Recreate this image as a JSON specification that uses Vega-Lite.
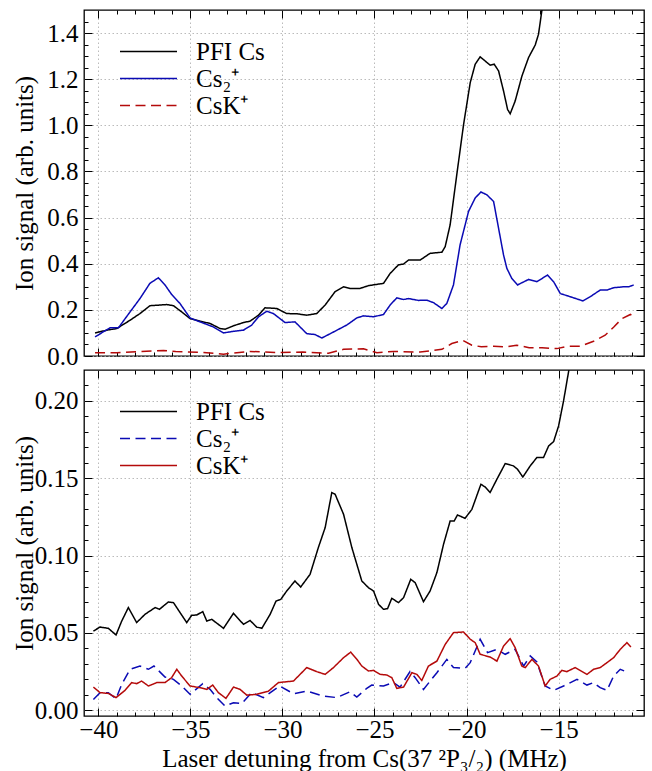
{
  "$schema": "https://vega.github.io/schema/vega-lite/v6.json",
  "padding": {"left": 11, "top": 8, "right": 4, "bottom": 2},
  "background": "white",
  "config": {
    "font": "Liberation Serif",
    "view": {"stroke": "black", "strokeWidth": 1.3},
    "axis": {"labelFont": "Liberation Serif", "titleFont": "Liberation Serif", "labelColor": "black", "titleColor": "black", "labelFontSize": 25, "titleFontSize": 25, "titleFontWeight": "normal", "domain": false, "tickColor": "black", "tickWidth": 1, "labelOverlap": false, "labelFlush": false, "labelBound": false},
    "legend": {"labelFont": "Liberation Serif", "labelFontSize": 25, "labelColor": "black"}
  },
  "spacing": -5,
  "datasets": {
    "top": [
      {"x": -40.18, "y": 0.100, "s": "PFI Cs"},
      {"x": -39.54, "y": 0.112, "s": "PFI Cs"},
      {"x": -39.0, "y": 0.119, "s": "PFI Cs"},
      {"x": -38.28, "y": 0.155, "s": "PFI Cs"},
      {"x": -37.74, "y": 0.184, "s": "PFI Cs"},
      {"x": -37.2, "y": 0.218, "s": "PFI Cs"},
      {"x": -36.83, "y": 0.220, "s": "PFI Cs"},
      {"x": -36.29, "y": 0.223, "s": "PFI Cs"},
      {"x": -35.92, "y": 0.218, "s": "PFI Cs"},
      {"x": -35.47, "y": 0.191, "s": "PFI Cs"},
      {"x": -35.02, "y": 0.162, "s": "PFI Cs"},
      {"x": -34.48, "y": 0.151, "s": "PFI Cs"},
      {"x": -33.93, "y": 0.141, "s": "PFI Cs"},
      {"x": -33.39, "y": 0.119, "s": "PFI Cs"},
      {"x": -33.12, "y": 0.116, "s": "PFI Cs"},
      {"x": -32.66, "y": 0.131, "s": "PFI Cs"},
      {"x": -32.12, "y": 0.145, "s": "PFI Cs"},
      {"x": -31.76, "y": 0.151, "s": "PFI Cs"},
      {"x": -31.30, "y": 0.177, "s": "PFI Cs"},
      {"x": -30.95, "y": 0.209, "s": "PFI Cs"},
      {"x": -30.31, "y": 0.206, "s": "PFI Cs"},
      {"x": -29.77, "y": 0.184, "s": "PFI Cs"},
      {"x": -29.22, "y": 0.183, "s": "PFI Cs"},
      {"x": -28.68, "y": 0.177, "s": "PFI Cs"},
      {"x": -28.14, "y": 0.184, "s": "PFI Cs"},
      {"x": -27.68, "y": 0.221, "s": "PFI Cs"},
      {"x": -27.14, "y": 0.279, "s": "PFI Cs"},
      {"x": -26.68, "y": 0.300, "s": "PFI Cs"},
      {"x": -26.33, "y": 0.293, "s": "PFI Cs"},
      {"x": -25.78, "y": 0.293, "s": "PFI Cs"},
      {"x": -25.33, "y": 0.305, "s": "PFI Cs"},
      {"x": -24.51, "y": 0.315, "s": "PFI Cs"},
      {"x": -24.15, "y": 0.358, "s": "PFI Cs"},
      {"x": -23.70, "y": 0.395, "s": "PFI Cs"},
      {"x": -23.42, "y": 0.399, "s": "PFI Cs"},
      {"x": -23.15, "y": 0.416, "s": "PFI Cs"},
      {"x": -22.52, "y": 0.416, "s": "PFI Cs"},
      {"x": -21.98, "y": 0.445, "s": "PFI Cs"},
      {"x": -21.34, "y": 0.450, "s": "PFI Cs"},
      {"x": -21.16, "y": 0.474, "s": "PFI Cs"},
      {"x": -20.89, "y": 0.569, "s": "PFI Cs"},
      {"x": -20.53, "y": 0.786, "s": "PFI Cs"},
      {"x": -20.16, "y": 1.004, "s": "PFI Cs"},
      {"x": -19.80, "y": 1.185, "s": "PFI Cs"},
      {"x": -19.53, "y": 1.265, "s": "PFI Cs"},
      {"x": -19.26, "y": 1.297, "s": "PFI Cs"},
      {"x": -18.99, "y": 1.279, "s": "PFI Cs"},
      {"x": -18.72, "y": 1.261, "s": "PFI Cs"},
      {"x": -18.50, "y": 1.265, "s": "PFI Cs"},
      {"x": -18.26, "y": 1.236, "s": "PFI Cs"},
      {"x": -17.99, "y": 1.149, "s": "PFI Cs"},
      {"x": -17.77, "y": 1.069, "s": "PFI Cs"},
      {"x": -17.63, "y": 1.050, "s": "PFI Cs"},
      {"x": -17.36, "y": 1.105, "s": "PFI Cs"},
      {"x": -16.99, "y": 1.214, "s": "PFI Cs"},
      {"x": -16.63, "y": 1.294, "s": "PFI Cs"},
      {"x": -16.27, "y": 1.348, "s": "PFI Cs"},
      {"x": -16.09, "y": 1.395, "s": "PFI Cs"},
      {"x": -15.91, "y": 1.497, "s": "PFI Cs"},
      {"x": -15.75, "y": 1.62, "s": "PFI Cs"},

      {"x": -40.18, "y": 0.083, "s": "Cs₂⁺"},
      {"x": -39.37, "y": 0.122, "s": "Cs₂⁺"},
      {"x": -38.91, "y": 0.122, "s": "Cs₂⁺"},
      {"x": -38.28, "y": 0.191, "s": "Cs₂⁺"},
      {"x": -37.74, "y": 0.249, "s": "Cs₂⁺"},
      {"x": -37.2, "y": 0.315, "s": "Cs₂⁺"},
      {"x": -36.74, "y": 0.339, "s": "Cs₂⁺"},
      {"x": -36.38, "y": 0.308, "s": "Cs₂⁺"},
      {"x": -36.02, "y": 0.267, "s": "Cs₂⁺"},
      {"x": -35.57, "y": 0.228, "s": "Cs₂⁺"},
      {"x": -35.02, "y": 0.165, "s": "Cs₂⁺"},
      {"x": -34.48, "y": 0.148, "s": "Cs₂⁺"},
      {"x": -33.75, "y": 0.126, "s": "Cs₂⁺"},
      {"x": -33.21, "y": 0.100, "s": "Cs₂⁺"},
      {"x": -32.66, "y": 0.107, "s": "Cs₂⁺"},
      {"x": -32.12, "y": 0.112, "s": "Cs₂⁺"},
      {"x": -31.67, "y": 0.134, "s": "Cs₂⁺"},
      {"x": -31.30, "y": 0.170, "s": "Cs₂⁺"},
      {"x": -30.85, "y": 0.194, "s": "Cs₂⁺"},
      {"x": -30.49, "y": 0.184, "s": "Cs₂⁺"},
      {"x": -29.86, "y": 0.145, "s": "Cs₂⁺"},
      {"x": -29.32, "y": 0.148, "s": "Cs₂⁺"},
      {"x": -28.68, "y": 0.097, "s": "Cs₂⁺"},
      {"x": -28.23, "y": 0.093, "s": "Cs₂⁺"},
      {"x": -27.86, "y": 0.078, "s": "Cs₂⁺"},
      {"x": -27.23, "y": 0.104, "s": "Cs₂⁺"},
      {"x": -26.51, "y": 0.134, "s": "Cs₂⁺"},
      {"x": -25.96, "y": 0.165, "s": "Cs₂⁺"},
      {"x": -25.60, "y": 0.174, "s": "Cs₂⁺"},
      {"x": -25.05, "y": 0.170, "s": "Cs₂⁺"},
      {"x": -24.51, "y": 0.180, "s": "Cs₂⁺"},
      {"x": -24.15, "y": 0.221, "s": "Cs₂⁺"},
      {"x": -23.79, "y": 0.252, "s": "Cs₂⁺"},
      {"x": -23.42, "y": 0.245, "s": "Cs₂⁺"},
      {"x": -23.15, "y": 0.249, "s": "Cs₂⁺"},
      {"x": -22.61, "y": 0.241, "s": "Cs₂⁺"},
      {"x": -22.16, "y": 0.242, "s": "Cs₂⁺"},
      {"x": -21.79, "y": 0.231, "s": "Cs₂⁺"},
      {"x": -21.34, "y": 0.206, "s": "Cs₂⁺"},
      {"x": -21.07, "y": 0.228, "s": "Cs₂⁺"},
      {"x": -20.71, "y": 0.308, "s": "Cs₂⁺"},
      {"x": -20.35, "y": 0.482, "s": "Cs₂⁺"},
      {"x": -19.89, "y": 0.627, "s": "Cs₂⁺"},
      {"x": -19.53, "y": 0.685, "s": "Cs₂⁺"},
      {"x": -19.22, "y": 0.711, "s": "Cs₂⁺"},
      {"x": -18.90, "y": 0.699, "s": "Cs₂⁺"},
      {"x": -18.53, "y": 0.670, "s": "Cs₂⁺"},
      {"x": -18.26, "y": 0.554, "s": "Cs₂⁺"},
      {"x": -17.99, "y": 0.438, "s": "Cs₂⁺"},
      {"x": -17.81, "y": 0.380, "s": "Cs₂⁺"},
      {"x": -17.54, "y": 0.336, "s": "Cs₂⁺"},
      {"x": -17.23, "y": 0.308, "s": "Cs₂⁺"},
      {"x": -16.63, "y": 0.332, "s": "Cs₂⁺"},
      {"x": -16.18, "y": 0.322, "s": "Cs₂⁺"},
      {"x": -15.60, "y": 0.351, "s": "Cs₂⁺"},
      {"x": -15.27, "y": 0.322, "s": "Cs₂⁺"},
      {"x": -14.91, "y": 0.271, "s": "Cs₂⁺"},
      {"x": -14.37, "y": 0.257, "s": "Cs₂⁺"},
      {"x": -13.68, "y": 0.239, "s": "Cs₂⁺"},
      {"x": -13.28, "y": 0.257, "s": "Cs₂⁺"},
      {"x": -12.74, "y": 0.286, "s": "Cs₂⁺"},
      {"x": -12.37, "y": 0.286, "s": "Cs₂⁺"},
      {"x": -12.01, "y": 0.296, "s": "Cs₂⁺"},
      {"x": -11.47, "y": 0.300, "s": "Cs₂⁺"},
      {"x": -11.20, "y": 0.300, "s": "Cs₂⁺"},
      {"x": -10.92, "y": 0.308, "s": "Cs₂⁺"},

      {"x": -40.18, "y": 0.014, "s": "CsK⁺"},
      {"x": -39.0, "y": 0.014, "s": "CsK⁺"},
      {"x": -37.7, "y": 0.019, "s": "CsK⁺"},
      {"x": -36.47, "y": 0.024, "s": "CsK⁺"},
      {"x": -35.8, "y": 0.019, "s": "CsK⁺"},
      {"x": -34.5, "y": 0.016, "s": "CsK⁺"},
      {"x": -33.2, "y": 0.008, "s": "CsK⁺"},
      {"x": -31.76, "y": 0.020, "s": "CsK⁺"},
      {"x": -30.3, "y": 0.015, "s": "CsK⁺"},
      {"x": -28.9, "y": 0.017, "s": "CsK⁺"},
      {"x": -27.5, "y": 0.012, "s": "CsK⁺"},
      {"x": -26.68, "y": 0.029, "s": "CsK⁺"},
      {"x": -25.6, "y": 0.031, "s": "CsK⁺"},
      {"x": -24.87, "y": 0.014, "s": "CsK⁺"},
      {"x": -23.97, "y": 0.020, "s": "CsK⁺"},
      {"x": -22.52, "y": 0.017, "s": "CsK⁺"},
      {"x": -21.34, "y": 0.029, "s": "CsK⁺"},
      {"x": -20.8, "y": 0.054, "s": "CsK⁺"},
      {"x": -20.2, "y": 0.068, "s": "CsK⁺"},
      {"x": -19.71, "y": 0.047, "s": "CsK⁺"},
      {"x": -19.2, "y": 0.040, "s": "CsK⁺"},
      {"x": -18.53, "y": 0.042, "s": "CsK⁺"},
      {"x": -17.8, "y": 0.040, "s": "CsK⁺"},
      {"x": -17.28, "y": 0.047, "s": "CsK⁺"},
      {"x": -16.6, "y": 0.036, "s": "CsK⁺"},
      {"x": -15.9, "y": 0.036, "s": "CsK⁺"},
      {"x": -15.09, "y": 0.032, "s": "CsK⁺"},
      {"x": -14.55, "y": 0.042, "s": "CsK⁺"},
      {"x": -13.82, "y": 0.042, "s": "CsK⁺"},
      {"x": -13.1, "y": 0.064, "s": "CsK⁺"},
      {"x": -12.47, "y": 0.090, "s": "CsK⁺"},
      {"x": -12.0, "y": 0.126, "s": "CsK⁺"},
      {"x": -11.56, "y": 0.162, "s": "CsK⁺"},
      {"x": -11.1, "y": 0.180, "s": "CsK⁺"},
      {"x": -10.92, "y": 0.171, "s": "CsK⁺"}
    ],
    "bottom": [
      {"x": -40.27, "y": 0.0512, "s": "PFI Cs"},
      {"x": -39.91, "y": 0.0538, "s": "PFI Cs"},
      {"x": -39.46, "y": 0.0530, "s": "PFI Cs"},
      {"x": -39.04, "y": 0.0487, "s": "PFI Cs"},
      {"x": -38.73, "y": 0.0577, "s": "PFI Cs"},
      {"x": -38.37, "y": 0.0664, "s": "PFI Cs"},
      {"x": -37.92, "y": 0.0567, "s": "PFI Cs"},
      {"x": -37.47, "y": 0.0620, "s": "PFI Cs"},
      {"x": -36.92, "y": 0.0664, "s": "PFI Cs"},
      {"x": -36.68, "y": 0.0653, "s": "PFI Cs"},
      {"x": -36.20, "y": 0.0700, "s": "PFI Cs"},
      {"x": -35.92, "y": 0.0696, "s": "PFI Cs"},
      {"x": -35.56, "y": 0.0631, "s": "PFI Cs"},
      {"x": -35.20, "y": 0.0567, "s": "PFI Cs"},
      {"x": -34.93, "y": 0.0614, "s": "PFI Cs"},
      {"x": -34.66, "y": 0.0616, "s": "PFI Cs"},
      {"x": -34.33, "y": 0.0638, "s": "PFI Cs"},
      {"x": -34.11, "y": 0.0577, "s": "PFI Cs"},
      {"x": -33.84, "y": 0.0588, "s": "PFI Cs"},
      {"x": -33.20, "y": 0.0530, "s": "PFI Cs"},
      {"x": -32.66, "y": 0.0627, "s": "PFI Cs"},
      {"x": -32.12, "y": 0.0556, "s": "PFI Cs"},
      {"x": -31.76, "y": 0.0581, "s": "PFI Cs"},
      {"x": -31.40, "y": 0.0538, "s": "PFI Cs"},
      {"x": -31.12, "y": 0.0530, "s": "PFI Cs"},
      {"x": -30.67, "y": 0.0620, "s": "PFI Cs"},
      {"x": -30.35, "y": 0.0706, "s": "PFI Cs"},
      {"x": -30.09, "y": 0.0717, "s": "PFI Cs"},
      {"x": -29.77, "y": 0.0771, "s": "PFI Cs"},
      {"x": -29.32, "y": 0.0836, "s": "PFI Cs"},
      {"x": -29.01, "y": 0.0797, "s": "PFI Cs"},
      {"x": -28.50, "y": 0.0879, "s": "PFI Cs"},
      {"x": -28.05, "y": 0.1052, "s": "PFI Cs"},
      {"x": -27.68, "y": 0.1181, "s": "PFI Cs"},
      {"x": -27.32, "y": 0.1407, "s": "PFI Cs"},
      {"x": -27.14, "y": 0.1397, "s": "PFI Cs"},
      {"x": -26.68, "y": 0.1267, "s": "PFI Cs"},
      {"x": -26.23, "y": 0.1052, "s": "PFI Cs"},
      {"x": -25.96, "y": 0.0944, "s": "PFI Cs"},
      {"x": -25.69, "y": 0.0836, "s": "PFI Cs"},
      {"x": -25.33, "y": 0.0793, "s": "PFI Cs"},
      {"x": -25.05, "y": 0.0771, "s": "PFI Cs"},
      {"x": -24.78, "y": 0.0685, "s": "PFI Cs"},
      {"x": -24.51, "y": 0.0653, "s": "PFI Cs"},
      {"x": -24.29, "y": 0.0657, "s": "PFI Cs"},
      {"x": -24.06, "y": 0.0724, "s": "PFI Cs"},
      {"x": -23.70, "y": 0.0696, "s": "PFI Cs"},
      {"x": -23.42, "y": 0.0728, "s": "PFI Cs"},
      {"x": -23.03, "y": 0.0847, "s": "PFI Cs"},
      {"x": -22.79, "y": 0.0825, "s": "PFI Cs"},
      {"x": -22.34, "y": 0.0702, "s": "PFI Cs"},
      {"x": -21.98, "y": 0.0771, "s": "PFI Cs"},
      {"x": -21.61, "y": 0.0890, "s": "PFI Cs"},
      {"x": -21.25, "y": 0.1073, "s": "PFI Cs"},
      {"x": -20.89, "y": 0.1224, "s": "PFI Cs"},
      {"x": -20.67, "y": 0.1224, "s": "PFI Cs"},
      {"x": -20.49, "y": 0.1263, "s": "PFI Cs"},
      {"x": -20.08, "y": 0.1241, "s": "PFI Cs"},
      {"x": -19.71, "y": 0.1299, "s": "PFI Cs"},
      {"x": -19.22, "y": 0.1461, "s": "PFI Cs"},
      {"x": -18.99, "y": 0.1444, "s": "PFI Cs"},
      {"x": -18.72, "y": 0.1408, "s": "PFI Cs"},
      {"x": -18.35, "y": 0.1494, "s": "PFI Cs"},
      {"x": -17.90, "y": 0.1595, "s": "PFI Cs"},
      {"x": -17.45, "y": 0.1580, "s": "PFI Cs"},
      {"x": -17.23, "y": 0.1558, "s": "PFI Cs"},
      {"x": -16.94, "y": 0.1508, "s": "PFI Cs"},
      {"x": -16.54, "y": 0.1580, "s": "PFI Cs"},
      {"x": -16.18, "y": 0.1634, "s": "PFI Cs"},
      {"x": -15.82, "y": 0.1634, "s": "PFI Cs"},
      {"x": -15.54, "y": 0.1709, "s": "PFI Cs"},
      {"x": -15.27, "y": 0.1737, "s": "PFI Cs"},
      {"x": -15.00, "y": 0.1838, "s": "PFI Cs"},
      {"x": -14.73, "y": 0.2000, "s": "PFI Cs"},
      {"x": -14.45, "y": 0.2194, "s": "PFI Cs"},
      {"x": -14.30, "y": 0.2400, "s": "PFI Cs"},

      {"x": -40.27, "y": 0.0070, "s": "Cs₂⁺"},
      {"x": -39.91, "y": 0.0114, "s": "Cs₂⁺"},
      {"x": -39.46, "y": 0.0114, "s": "Cs₂⁺"},
      {"x": -39.04, "y": 0.0075, "s": "Cs₂⁺"},
      {"x": -38.73, "y": 0.0168, "s": "Cs₂⁺"},
      {"x": -38.28, "y": 0.0265, "s": "Cs₂⁺"},
      {"x": -37.74, "y": 0.0286, "s": "Cs₂⁺"},
      {"x": -37.28, "y": 0.0265, "s": "Cs₂⁺"},
      {"x": -36.98, "y": 0.0286, "s": "Cs₂⁺"},
      {"x": -36.38, "y": 0.0215, "s": "Cs₂⁺"},
      {"x": -35.92, "y": 0.0200, "s": "Cs₂⁺"},
      {"x": -35.47, "y": 0.0157, "s": "Cs₂⁺"},
      {"x": -35.02, "y": 0.0103, "s": "Cs₂⁺"},
      {"x": -34.33, "y": 0.0172, "s": "Cs₂⁺"},
      {"x": -33.93, "y": 0.0135, "s": "Cs₂⁺"},
      {"x": -33.57, "y": 0.0082, "s": "Cs₂⁺"},
      {"x": -33.12, "y": 0.0027, "s": "Cs₂⁺"},
      {"x": -32.66, "y": 0.0049, "s": "Cs₂⁺"},
      {"x": -32.21, "y": 0.0043, "s": "Cs₂⁺"},
      {"x": -31.67, "y": 0.0114, "s": "Cs₂⁺"},
      {"x": -31.03, "y": 0.0082, "s": "Cs₂⁺"},
      {"x": -30.16, "y": 0.0157, "s": "Cs₂⁺"},
      {"x": -29.40, "y": 0.0107, "s": "Cs₂⁺"},
      {"x": -28.68, "y": 0.0124, "s": "Cs₂⁺"},
      {"x": -27.77, "y": 0.0092, "s": "Cs₂⁺"},
      {"x": -27.05, "y": 0.0082, "s": "Cs₂⁺"},
      {"x": -26.33, "y": 0.0120, "s": "Cs₂⁺"},
      {"x": -25.96, "y": 0.0085, "s": "Cs₂⁺"},
      {"x": -25.42, "y": 0.0142, "s": "Cs₂⁺"},
      {"x": -25.15, "y": 0.0163, "s": "Cs₂⁺"},
      {"x": -24.51, "y": 0.0157, "s": "Cs₂⁺"},
      {"x": -23.97, "y": 0.0179, "s": "Cs₂⁺"},
      {"x": -23.61, "y": 0.0150, "s": "Cs₂⁺"},
      {"x": -23.07, "y": 0.0250, "s": "Cs₂⁺"},
      {"x": -22.79, "y": 0.0211, "s": "Cs₂⁺"},
      {"x": -22.34, "y": 0.0135, "s": "Cs₂⁺"},
      {"x": -21.61, "y": 0.0243, "s": "Cs₂⁺"},
      {"x": -21.07, "y": 0.0329, "s": "Cs₂⁺"},
      {"x": -20.71, "y": 0.0276, "s": "Cs₂⁺"},
      {"x": -20.08, "y": 0.0271, "s": "Cs₂⁺"},
      {"x": -19.80, "y": 0.0308, "s": "Cs₂⁺"},
      {"x": -19.26, "y": 0.0459, "s": "Cs₂⁺"},
      {"x": -18.86, "y": 0.0373, "s": "Cs₂⁺"},
      {"x": -18.35, "y": 0.0394, "s": "Cs₂⁺"},
      {"x": -17.90, "y": 0.0362, "s": "Cs₂⁺"},
      {"x": -17.36, "y": 0.0394, "s": "Cs₂⁺"},
      {"x": -16.90, "y": 0.0286, "s": "Cs₂⁺"},
      {"x": -16.54, "y": 0.0351, "s": "Cs₂⁺"},
      {"x": -16.18, "y": 0.0312, "s": "Cs₂⁺"},
      {"x": -15.73, "y": 0.0157, "s": "Cs₂⁺"},
      {"x": -15.27, "y": 0.0129, "s": "Cs₂⁺"},
      {"x": -14.73, "y": 0.0157, "s": "Cs₂⁺"},
      {"x": -14.00, "y": 0.0200, "s": "Cs₂⁺"},
      {"x": -13.46, "y": 0.0163, "s": "Cs₂⁺"},
      {"x": -13.10, "y": 0.0179, "s": "Cs₂⁺"},
      {"x": -12.74, "y": 0.0146, "s": "Cs₂⁺"},
      {"x": -12.37, "y": 0.0129, "s": "Cs₂⁺"},
      {"x": -12.01, "y": 0.0221, "s": "Cs₂⁺"},
      {"x": -11.65, "y": 0.0265, "s": "Cs₂⁺"},
      {"x": -11.20, "y": 0.0243, "s": "Cs₂⁺"},

      {"x": -40.27, "y": 0.0150, "s": "CsK⁺"},
      {"x": -39.91, "y": 0.0114, "s": "CsK⁺"},
      {"x": -39.46, "y": 0.0109, "s": "CsK⁺"},
      {"x": -39.04, "y": 0.0082, "s": "CsK⁺"},
      {"x": -38.55, "y": 0.0129, "s": "CsK⁺"},
      {"x": -38.19, "y": 0.0179, "s": "CsK⁺"},
      {"x": -37.92, "y": 0.0172, "s": "CsK⁺"},
      {"x": -37.65, "y": 0.0189, "s": "CsK⁺"},
      {"x": -37.28, "y": 0.0157, "s": "CsK⁺"},
      {"x": -36.83, "y": 0.0179, "s": "CsK⁺"},
      {"x": -36.38, "y": 0.0179, "s": "CsK⁺"},
      {"x": -36.02, "y": 0.0211, "s": "CsK⁺"},
      {"x": -35.74, "y": 0.0265, "s": "CsK⁺"},
      {"x": -35.47, "y": 0.0221, "s": "CsK⁺"},
      {"x": -35.02, "y": 0.0157, "s": "CsK⁺"},
      {"x": -34.48, "y": 0.0146, "s": "CsK⁺"},
      {"x": -34.11, "y": 0.0135, "s": "CsK⁺"},
      {"x": -33.79, "y": 0.0163, "s": "CsK⁺"},
      {"x": -33.48, "y": 0.0114, "s": "CsK⁺"},
      {"x": -33.07, "y": 0.0077, "s": "CsK⁺"},
      {"x": -32.66, "y": 0.0150, "s": "CsK⁺"},
      {"x": -32.30, "y": 0.0135, "s": "CsK⁺"},
      {"x": -31.94, "y": 0.0098, "s": "CsK⁺"},
      {"x": -31.40, "y": 0.0103, "s": "CsK⁺"},
      {"x": -30.76, "y": 0.0124, "s": "CsK⁺"},
      {"x": -30.22, "y": 0.0179, "s": "CsK⁺"},
      {"x": -29.40, "y": 0.0189, "s": "CsK⁺"},
      {"x": -28.68, "y": 0.0276, "s": "CsK⁺"},
      {"x": -28.14, "y": 0.0250, "s": "CsK⁺"},
      {"x": -27.68, "y": 0.0232, "s": "CsK⁺"},
      {"x": -27.23, "y": 0.0276, "s": "CsK⁺"},
      {"x": -26.68, "y": 0.0340, "s": "CsK⁺"},
      {"x": -26.29, "y": 0.0376, "s": "CsK⁺"},
      {"x": -25.96, "y": 0.0330, "s": "CsK⁺"},
      {"x": -25.69, "y": 0.0286, "s": "CsK⁺"},
      {"x": -25.33, "y": 0.0254, "s": "CsK⁺"},
      {"x": -25.05, "y": 0.0258, "s": "CsK⁺"},
      {"x": -24.69, "y": 0.0232, "s": "CsK⁺"},
      {"x": -24.33, "y": 0.0228, "s": "CsK⁺"},
      {"x": -24.06, "y": 0.0211, "s": "CsK⁺"},
      {"x": -23.79, "y": 0.0142, "s": "CsK⁺"},
      {"x": -23.42, "y": 0.0150, "s": "CsK⁺"},
      {"x": -22.97, "y": 0.0243, "s": "CsK⁺"},
      {"x": -22.70, "y": 0.0232, "s": "CsK⁺"},
      {"x": -22.43, "y": 0.0193, "s": "CsK⁺"},
      {"x": -22.07, "y": 0.0286, "s": "CsK⁺"},
      {"x": -21.61, "y": 0.0318, "s": "CsK⁺"},
      {"x": -21.16, "y": 0.0426, "s": "CsK⁺"},
      {"x": -20.71, "y": 0.0502, "s": "CsK⁺"},
      {"x": -20.16, "y": 0.0506, "s": "CsK⁺"},
      {"x": -19.80, "y": 0.0459, "s": "CsK⁺"},
      {"x": -19.53, "y": 0.0437, "s": "CsK⁺"},
      {"x": -19.26, "y": 0.0362, "s": "CsK⁺"},
      {"x": -18.72, "y": 0.0344, "s": "CsK⁺"},
      {"x": -18.35, "y": 0.0318, "s": "CsK⁺"},
      {"x": -17.99, "y": 0.0415, "s": "CsK⁺"},
      {"x": -17.63, "y": 0.0463, "s": "CsK⁺"},
      {"x": -17.36, "y": 0.0405, "s": "CsK⁺"},
      {"x": -17.00, "y": 0.0286, "s": "CsK⁺"},
      {"x": -16.81, "y": 0.0276, "s": "CsK⁺"},
      {"x": -16.45, "y": 0.0329, "s": "CsK⁺"},
      {"x": -16.09, "y": 0.0286, "s": "CsK⁺"},
      {"x": -15.73, "y": 0.0157, "s": "CsK⁺"},
      {"x": -15.46, "y": 0.0200, "s": "CsK⁺"},
      {"x": -15.09, "y": 0.0221, "s": "CsK⁺"},
      {"x": -14.82, "y": 0.0258, "s": "CsK⁺"},
      {"x": -14.55, "y": 0.0250, "s": "CsK⁺"},
      {"x": -14.10, "y": 0.0276, "s": "CsK⁺"},
      {"x": -13.46, "y": 0.0232, "s": "CsK⁺"},
      {"x": -13.10, "y": 0.0265, "s": "CsK⁺"},
      {"x": -12.74, "y": 0.0276, "s": "CsK⁺"},
      {"x": -12.37, "y": 0.0308, "s": "CsK⁺"},
      {"x": -12.01, "y": 0.0340, "s": "CsK⁺"},
      {"x": -11.65, "y": 0.0394, "s": "CsK⁺"},
      {"x": -11.29, "y": 0.0437, "s": "CsK⁺"},
      {"x": -11.07, "y": 0.0409, "s": "CsK⁺"}
    ]
  },
  "vconcat": [
    {
      "width": 560,
      "height": 346,
      "data": {"name": "top"},
      "layer": [
        {
          "mark": {"type": "line", "clip": true, "strokeWidth": 1.5},
          "encoding": {
            "x": {"field": "x", "type": "quantitative", "scale": {"domain": [-40.78, -10.36], "nice": false, "zero": false},
              "axis": {"orient": "bottom", "title": null, "labels": false, "minExtent": 0, "maxExtent": 0,
                "values": [-40,-39,-38,-37,-36,-35,-34,-33,-32,-31,-30,-29,-28,-27,-26,-25,-24,-23,-22,-21,-20,-19,-18,-17,-16,-15,-14,-13,-12,-11],
                "tickSize": {"condition": {"test": "datum.value % 5 === 0", "value": -8}, "value": -4},
                "grid": true, "gridDash": [1.5, 2.5], "gridColor": "#aaaaaa", "gridWidth": 0.8,
                "gridOpacity": {"condition": {"test": "datum.value % 5 === 0", "value": 1}, "value": 0}}},
            "y": {"field": "y", "type": "quantitative", "scale": {"domain": [0, 1.5], "nice": false, "zero": false},
              "axis": {"orient": "left", "title": "Ion signal (arb. units)", "titleX": -52, "titleBaseline": "alphabetic", "titleFont": "Liberation Serif", "labelFont": "Liberation Serif",
                "values": [0,0.05,0.1,0.15,0.2,0.25,0.3,0.35,0.4,0.45,0.5,0.55,0.6,0.65,0.7,0.75,0.8,0.85,0.9,0.95,1,1.05,1.1,1.15,1.2,1.25,1.3,1.35,1.4,1.45],
                "labelExpr": "round(datum.value*20) % 4 === 0 ? format(datum.value, '.1f') : ''",
                "labelPadding": 14,
                "tickSize": {"condition": {"test": "round(datum.value*20) % 4 === 0", "value": -8}, "value": -4},
                "grid": true, "gridDash": [1.5, 2.5], "gridColor": "#aaaaaa", "gridWidth": 0.8,
                "gridOpacity": {"condition": {"test": "round(datum.value*20) % 4 === 0", "value": 1}, "value": 0}}},
            "color": {"field": "s", "type": "nominal",
              "scale": {"domain": ["PFI Cs", "Cs₂⁺", "CsK⁺"], "range": ["#000000", "#0a0ab4", "#b40a0a"]},
              "legend": {"orient": "none", "legendX": 52, "legendY": 29, "title": null, "symbolType": "M-3,0H3", "symbolSize": 361, "symbolStrokeWidth": 1.5, "symbolFillColor": "transparent", "labelOffset": 35, "rowPadding": 1}},
            "strokeDash": {"field": "s", "type": "nominal",
              "scale": {"domain": ["PFI Cs", "Cs₂⁺", "CsK⁺"], "range": [[1, 0], [1, 0], [10, 5.5]]},
              "legend": {"orient": "none", "legendX": 52, "legendY": 29, "title": null, "symbolType": "M-3,0H3", "symbolSize": 361, "symbolStrokeWidth": 1.5, "symbolFillColor": "transparent", "labelOffset": 35, "rowPadding": 1}}
          }
        },
        {
          "mark": {"type": "line", "opacity": 0, "clip": true},
          "encoding": {
            "x": {"field": "x", "type": "quantitative",
              "axis": {"orient": "top", "title": null, "labels": false, "grid": false, "minExtent": 0, "maxExtent": 0,
                "values": [-40,-39,-38,-37,-36,-35,-34,-33,-32,-31,-30,-29,-28,-27,-26,-25,-24,-23,-22,-21,-20,-19,-18,-17,-16,-15,-14,-13,-12,-11],
                "tickSize": {"condition": {"test": "datum.value % 5 === 0", "value": -8}, "value": -4}}},
            "y": {"field": "y", "type": "quantitative",
              "axis": {"orient": "right", "title": null, "labels": false, "grid": false, "minExtent": 0, "maxExtent": 0,
                "values": [0,0.05,0.1,0.15,0.2,0.25,0.3,0.35,0.4,0.45,0.5,0.55,0.6,0.65,0.7,0.75,0.8,0.85,0.9,0.95,1,1.05,1.1,1.15,1.2,1.25,1.3,1.35,1.4,1.45],
                "tickSize": {"condition": {"test": "round(datum.value*20) % 4 === 0", "value": -8}, "value": -4}}},
            "detail": {"field": "s"}
          }
        }
      ],
      "resolve": {"axis": {"x": "independent", "y": "independent"}}
    },
    {
      "width": 560,
      "height": 346,
      "data": {"name": "bottom"},
      "layer": [
        {
          "mark": {"type": "line", "clip": true, "strokeWidth": 1.5},
          "encoding": {
            "x": {"field": "x", "type": "quantitative", "scale": {"domain": [-40.78, -10.36], "nice": false, "zero": false},
              "axis": {"orient": "bottom", "title": "Laser detuning from Cs(37 ²P₃/₂) (MHz)", "titlePadding": 0, "titleFont": "Liberation Serif", "labelFont": "Liberation Serif",
                "values": [-40,-39,-38,-37,-36,-35,-34,-33,-32,-31,-30,-29,-28,-27,-26,-25,-24,-23,-22,-21,-20,-19,-18,-17,-16,-15,-14,-13,-12,-11],
                "labelExpr": "datum.value % 5 === 0 ? datum.label : ''",
                "labelPadding": 9,
                "tickSize": {"condition": {"test": "datum.value % 5 === 0", "value": -8}, "value": -4},
                "grid": true, "gridDash": [1.5, 2.5], "gridColor": "#aaaaaa", "gridWidth": 0.8,
                "gridOpacity": {"condition": {"test": "datum.value % 5 === 0", "value": 1}, "value": 0}}},
            "y": {"field": "y", "type": "quantitative", "scale": {"domain": [-0.0037, 0.22], "nice": false, "zero": false},
              "axis": {"orient": "left", "title": "Ion signal (arb. units)", "titleX": -52, "titleBaseline": "alphabetic", "titleFont": "Liberation Serif", "labelFont": "Liberation Serif",
                "values": [0,0.01,0.02,0.03,0.04,0.05,0.06,0.07,0.08,0.09,0.1,0.11,0.12,0.13,0.14,0.15,0.16,0.17,0.18,0.19,0.2,0.21],
                "labelExpr": "round(datum.value*100) % 5 === 0 ? format(datum.value, '.2f') : ''",
                "labelPadding": 14,
                "tickSize": {"condition": {"test": "round(datum.value*100) % 5 === 0", "value": -8}, "value": -4},
                "grid": true, "gridDash": [1.5, 2.5], "gridColor": "#aaaaaa", "gridWidth": 0.8,
                "gridOpacity": {"condition": {"test": "round(datum.value*100) % 5 === 0", "value": 1}, "value": 0}}},
            "color": {"field": "s", "type": "nominal",
              "scale": {"domain": ["PFI Cs", "Cs₂⁺", "CsK⁺"], "range": ["#000000", "#0a0ab4", "#b40a0a"]},
              "legend": {"orient": "none", "legendX": 52, "legendY": 29, "title": null, "symbolType": "M-3,0H3", "symbolSize": 361, "symbolStrokeWidth": 1.5, "symbolFillColor": "transparent", "labelOffset": 35, "rowPadding": 1}},
            "strokeDash": {"field": "s", "type": "nominal",
              "scale": {"domain": ["PFI Cs", "Cs₂⁺", "CsK⁺"], "range": [[1, 0], [10, 5.5], [1, 0]]},
              "legend": {"orient": "none", "legendX": 52, "legendY": 29, "title": null, "symbolType": "M-3,0H3", "symbolSize": 361, "symbolStrokeWidth": 1.5, "symbolFillColor": "transparent", "labelOffset": 35, "rowPadding": 1}}
          }
        },
        {
          "mark": {"type": "line", "opacity": 0, "clip": true},
          "encoding": {
            "x": {"field": "x", "type": "quantitative",
              "axis": {"orient": "top", "title": null, "labels": false, "grid": false, "minExtent": 0, "maxExtent": 0,
                "values": [-40,-39,-38,-37,-36,-35,-34,-33,-32,-31,-30,-29,-28,-27,-26,-25,-24,-23,-22,-21,-20,-19,-18,-17,-16,-15,-14,-13,-12,-11],
                "tickSize": {"condition": {"test": "datum.value % 5 === 0", "value": -8}, "value": -4}}},
            "y": {"field": "y", "type": "quantitative",
              "axis": {"orient": "right", "title": null, "labels": false, "grid": false, "minExtent": 0, "maxExtent": 0,
                "values": [0,0.01,0.02,0.03,0.04,0.05,0.06,0.07,0.08,0.09,0.1,0.11,0.12,0.13,0.14,0.15,0.16,0.17,0.18,0.19,0.2,0.21],
                "tickSize": {"condition": {"test": "round(datum.value*100) % 5 === 0", "value": -8}, "value": -4}}},
            "detail": {"field": "s"}
          }
        }
      ],
      "resolve": {"axis": {"x": "independent", "y": "independent"}}
    }
  ],
  "resolve": {"scale": {"color": "independent", "strokeDash": "independent"}, "legend": {"color": "independent", "strokeDash": "independent"}}
}
